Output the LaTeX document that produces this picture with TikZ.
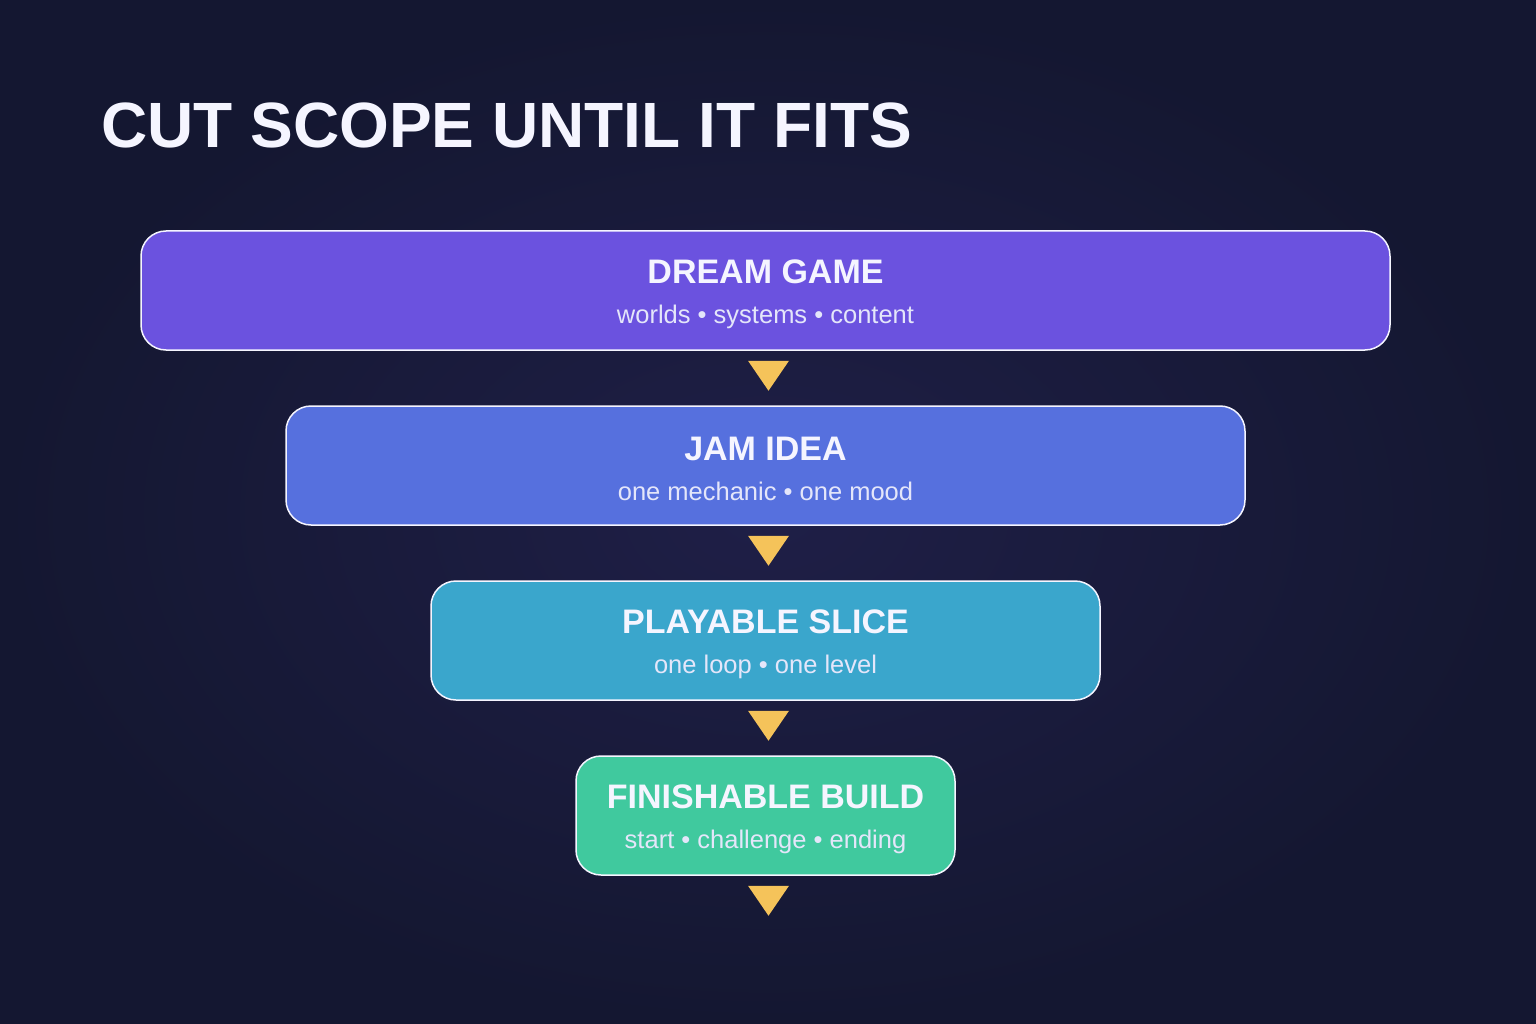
\documentclass[tikz,border=0pt]{standalone}
\usepackage{fontspec}
\setmainfont{Liberation Sans}
\usetikzlibrary{positioning}
\definecolor{bgin}{HTML}{1F1F47}
\definecolor{bgout}{HTML}{141731}
\definecolor{dream}{HTML}{6B52DF}
\definecolor{jam}{HTML}{5670DE}
\definecolor{slice}{HTML}{3AA6CC}
\definecolor{build}{HTML}{40C99E}
\definecolor{pointer}{HTML}{F5C35A}
\definecolor{ink}{HTML}{F5F5FF}
\definecolor{subink}{HTML}{E4E6FA}
\newcommand{\stagehead}[1]{{\color{ink}\bfseries\fontsize{34}{40}\selectfont\rule{0pt}{31pt}#1}}
\begin{document}
\begin{tikzpicture}[x=1pt,y=-1pt]
\tikzstyle{stage}=[draw=ink, line width=1.5pt, rounded corners=25pt, minimum height=119pt, inner sep=0pt, align=center, text=subink, font=\fontsize{25.5}{40}\selectfont]
\shade[inner color=bgin, outer color=bgout] (0,0) rectangle (1536,1024);
\useasboundingbox (0,0) rectangle (1536,1024);
\node[anchor=base west, inner sep=0pt, text=ink, font=\bfseries\fontsize{64}{64}\selectfont] (title) at (101,148) {CUT SCOPE UNTIL IT FITS};
% the funnel
\node[stage, fill=dream, minimum width=1249pt] (dream) at (765.5,290.5) {\stagehead{DREAM GAME}\\worlds • systems • content};
\node[stage, fill=jam, minimum width=959pt, below=54.5pt of dream] (jam) {\stagehead{JAM IDEA}\\one mechanic • one mood};
\node[stage, fill=slice, minimum width=669pt, below=54.5pt of jam] (slice) {\stagehead{PLAYABLE SLICE}\\one loop • one level};
\node[stage, fill=build, minimum width=379pt, below=54.5pt of slice] (build) {\stagehead{FINISHABLE BUILD}\\start • challenge • ending};
% pointers under each stage
\foreach \n in {dream,jam,slice,build}
  \fill[pointer] ([xshift=-17.5pt,yshift=-10pt]\n.south) -- ++(41,0) -- ++(-20.5,30) -- cycle;
\end{tikzpicture}
\end{document}
